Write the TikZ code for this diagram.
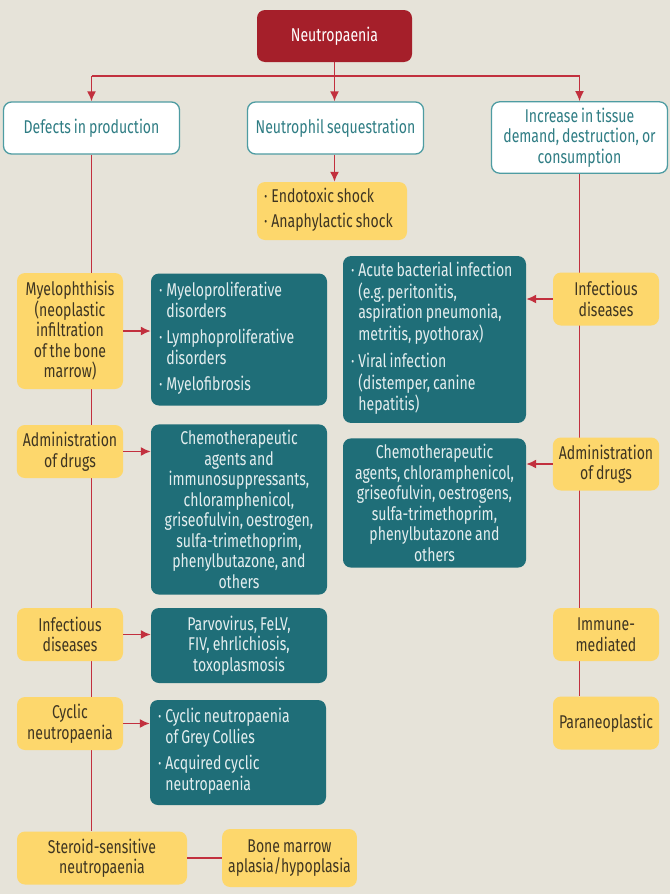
\documentclass[tikz,border=0pt]{standalone}
\usepackage{fontspec}
\setmainfont[FakeStretch=0.76,WordSpace=0.8]{Fira Sans}
\usetikzlibrary{arrows.meta,positioning}

\definecolor{pagebg}{HTML}{E6E3D9}
\definecolor{headred}{HTML}{A51F2A}
\definecolor{linkred}{HTML}{C2303E}
\definecolor{tealfill}{HTML}{1F6E78}
\definecolor{tealedge}{HTML}{4E9CA2}
\definecolor{tealtext}{HTML}{2F7D84}
\definecolor{yellowfill}{HTML}{FDD76C}
\definecolor{yellowtext}{HTML}{3E3522}

\pgfdeclarelayer{background}
\pgfdeclarelayer{links}
\pgfsetlayers{background,links,main}

% bullet list inside a box (font's own word space)
\newcommand{\itemlist}[1]{\spaceskip=0pt\relax\begin{tabular}{@{}l@{\hspace{4pt}}l@{}}#1\end{tabular}}

\begin{document}
\frenchspacing
\begin{tikzpicture}[
  x=1pt,y=-1pt,
  >={Latex[length=10pt,width=9pt]},
  box/.style={rounded corners=8pt,inner sep=6pt,align=center,
    font=\fontsize{18.5pt}{20.5pt}\selectfont},
  headbox/.style={box,fill=headred,text=white,minimum width=155pt,minimum height=52pt},
  groupbox/.style={box,fill=white,draw=tealedge,line width=1.3pt,text=tealtext,minimum width=176pt},
  causebox/.style={box,fill=yellowfill,text=yellowtext,minimum width=106pt,minimum height=53pt},
  listbox/.style={box,fill=tealfill,text=white!88!tealfill},
  leftlist/.style={align=left,text width=#1},
  link/.style={draw=linkred,line width=1.6pt},
  arrowlink/.style={link,->}
]
  \begin{pgfonlayer}{background}
    \fill[pagebg] (0,0) rectangle (670,894);
  \end{pgfonlayer}

  % top
  \node[headbox] (neutro) at (334.5,36) {Neutropaenia};
  \node[groupbox,minimum height=52pt] (defects) at (91.5,128) {Defects in production};
  \node[groupbox,minimum height=52pt] (seques) at (335.5,128) {Neutrophil sequestration};
  \node[groupbox,minimum height=71pt] (increase) at (579.5,137.5)
    {Increase in tissue\\demand, destruction, or\\consumption};
  \node[causebox,minimum width=150pt,minimum height=58pt,leftlist=136pt] (shock) at (332,211)
    {\itemlist{·&Endotoxic shock\\[4pt]·&Anaphylactic shock}};

  % defects in production
  \node[causebox,minimum height=116pt] (myelo) at (70,331)
    {Myelophthisis\\(neoplastic\\infiltration\\of the bone\\marrow)};
  \node[listbox,minimum width=176pt,minimum height=132pt,leftlist=160pt] (prolif) at (239,339.5)
    {\itemlist{·&Myeloproliferative\\&disorders\\[6pt]·&Lymphoproliferative\\&disorders\\[6pt]·&Myelofibrosis}};
  \node[causebox] (drugsL) at (70,451.5) {Administration\\of drugs};
  \node[listbox,minimum width=176pt,minimum height=169pt] (chemoL) at (239,509.5)
    {Chemotherapeutic\\agents and\\immunosuppressants,\\chloramphenicol,\\griseofulvin, oestrogen,\\sulfa-trimethoprim,\\phenylbutazone, and\\others};
  \node[causebox] (infectL) at (70,634.5) {Infectious\\diseases};
  \node[listbox,minimum width=176pt,minimum height=75pt] (viral) at (239,645.5)
    {Parvovirus, FeLV,\\FIV, ehrlichiosis,\\toxoplasmosis};
  \node[causebox] (cyclic) at (70,723.5) {Cyclic\\neutropaenia};
  \node[listbox,minimum width=176pt,minimum height=105pt,leftlist=160pt] (collies) at (238,752.5)
    {\itemlist{·&Cyclic neutropaenia\\&of Grey Collies\\[6pt]·&Acquired cyclic\\&neutropaenia}};
  \node[causebox,minimum width=170pt] (steroid) at (102,858) {Steroid-sensitive\\neutropaenia};
  \node[causebox,minimum width=133pt,minimum height=58pt] (aplasia) at (289.5,858)
    {Bone marrow\\aplasia/hypoplasia};

  % increase in demand
  \node[causebox] (infectR) at (606,299) {Infectious\\diseases};
  \node[listbox,minimum width=183pt,minimum height=165pt,leftlist=167pt] (bacterial) at (434.5,339.5)
    {\itemlist{·&Acute bacterial infection\\&(e.g. peritonitis,\\&aspiration pneumonia,\\&metritis, pyothorax)\\[6pt]·&Viral infection\\&(distemper, canine\\&hepatitis)}};
  \node[causebox] (drugsR) at (606,464) {Administration\\of drugs};
  \node[listbox,minimum width=183pt,minimum height=128pt] (chemoR) at (434.5,503)
    {Chemotherapeutic\\agents, chloramphenicol,\\griseofulvin, oestrogens,\\sulfa-trimethoprim,\\phenylbutazone and\\others};
  \node[causebox] (immune) at (606,634.5) {Immune-\\mediated};
  \node[causebox] (paraneo) at (606,723) {Paraneoplastic};

  \coordinate (split) at (334.5,76);

  \begin{pgfonlayer}{links}
    \draw[link] (neutro.south) -- (split);
    \draw[link] (defects.north |- split) -- (increase.north |- split);
    \draw[arrowlink] (defects.north |- split) -- (defects.north);
    \draw[arrowlink] (split) -- (split |- seques.north);
    \draw[arrowlink] (increase.north |- split) -- (increase.north);
    \draw[arrowlink] (split |- seques.south) -- (split |- shock.north);
    \draw[link] (defects.south) -- (defects.south |- steroid.north);
    \draw[link] (increase.south) -- (increase.south |- paraneo.north);
  \end{pgfonlayer}

  \draw[arrowlink] (myelo.east) -- (myelo.east -| prolif.west);
  \draw[arrowlink] (drugsL.east) -- (drugsL.east -| chemoL.west);
  \draw[arrowlink] (infectL.east) -- (infectL.east -| viral.west);
  \draw[arrowlink] (cyclic.east) -- (cyclic.east -| collies.west);
  \draw[link] (steroid.east) -- (aplasia.west);
  \draw[arrowlink] (infectR.west) -- (infectR.west -| bacterial.east);
  \draw[arrowlink] (drugsR.west) -- (drugsR.west -| chemoR.east);
\end{tikzpicture}
\end{document}
